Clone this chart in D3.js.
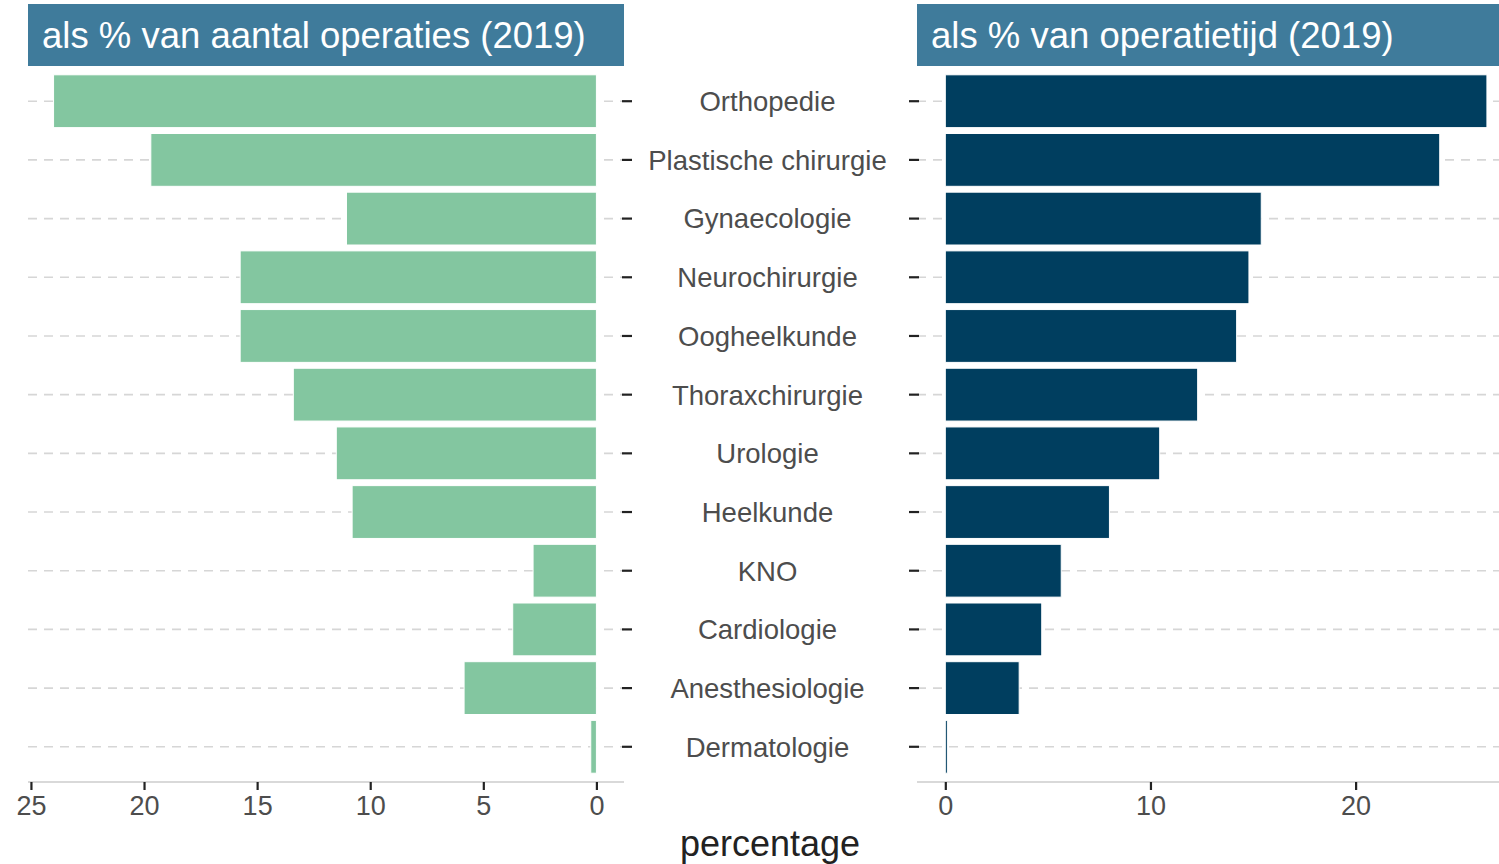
<!DOCTYPE html>
<html>
<head>
<meta charset="utf-8">
<script src="https://cdn.jsdelivr.net/npm/d3@7"></script>
<style>
  html, body { margin: 0; padding: 0; background: #fff; overflow: hidden; }
  svg { display: block; font-family: "Liberation Sans", Arial, sans-serif; }
</style>
</head>
<body>
<div id="chart"></div>
<script>
var categories = ['Orthopedie', 'Plastische chirurgie', 'Gynaecologie', 'Neurochirurgie',
                  'Oogheelkunde', 'Thoraxchirurgie', 'Urologie', 'Heelkunde', 'KNO',
                  'Cardiologie', 'Anesthesiologie', 'Dermatologie'];
// % van aantal operaties
var aantalValues = [24.0, 19.7, 11.05, 15.75, 15.75, 13.4, 11.5, 10.8, 2.8, 3.7, 5.85, 0.25];
// % van operatietijd
var tijdValues = [26.4, 24.1, 15.4, 14.8, 14.2, 12.3, 10.45, 8.0, 5.65, 4.7, 3.6, 0.1];
var leftTicks = [25, 20, 15, 10, 5, 0];
var rightTicks = [0, 10, 20];
var leftTitle = 'als % van aantal operaties (2019)';
var rightTitle = 'als % van operatietijd (2019)';
var axisTitle = 'percentage';

var width = 1499, height = 864,
    panelTop = 66, panelBottom = 782,
    headerTop = 4,
    left = { x0: 28, x1: 624 },
    right = { x0: 917, x1: 1514 },
    headerColor = '#3f7b9b',
    greenFill = '#83c6a0',
    navyFill = '#003e5f',
    textColor = '#4d4d4d';

var svg = d3.select('#chart')
            .append('svg')
              .attr('width', width)
              .attr('height', height);

var y = d3.scaleBand()
          .domain(categories)
          .range([panelTop, panelBottom])
          .paddingInner(0.1)
          .paddingOuter(0.15);

var xLeft = d3.scaleLinear()
              .domain([-1.22, 25.13])
              .range([left.x1, left.x0]);

var xRight = d3.scaleLinear()
               .domain([-1.38, 27.72])
               .range([right.x0, right.x1]);

function drawPanel(p, x, values, ticks, fill, title, tickSide) {
  var g = svg.append('g');

  // header strip
  g.append('rect')
   .attr('x', p.x0)
   .attr('y', headerTop)
   .attr('width', p.x1 - p.x0)
   .attr('height', panelTop - headerTop)
   .style('fill', headerColor);
  g.append('text')
   .attr('x', p.x0 + 14)
   .attr('y', (headerTop + panelTop) / 2)
   .attr('dy', '0.36em')
   .style('font-size', '36.5px')
   .style('fill', '#fff')
   .text(title);

  // dashed grid lines
  g.selectAll('.grid')
   .data(categories)
   .enter()
   .append('line')
     .attr('class', 'grid')
     .attr('x1', p.x0)
     .attr('x2', p.x1)
     .attr('y1', function(d) { return y(d) + y.bandwidth() / 2; })
     .attr('y2', function(d) { return y(d) + y.bandwidth() / 2; })
     .style('stroke', '#d6d6d6')
     .style('stroke-width', 1.6)
     .style('stroke-dasharray', '9,7');

  // bars
  g.selectAll('.bar')
   .data(values)
   .enter()
   .append('rect')
     .attr('class', 'bar')
     .attr('x', function(d) { return Math.min(x(0), x(d)); })
     .attr('y', function(d, i) { return y(categories[i]); })
     .attr('width', function(d) { return Math.abs(x(d) - x(0)); })
     .attr('height', y.bandwidth())
     .style('fill', fill)
     .style('stroke', '#fff')
     .style('stroke-width', 1);

  // y ticks at the inner edge
  var tx = tickSide === 'right' ? p.x1 : p.x0;
  var dir = tickSide === 'right' ? 1 : -1;
  g.selectAll('.ytick')
   .data(categories)
   .enter()
   .append('line')
     .attr('class', 'ytick')
     .attr('x1', tx - 2 * dir)
     .attr('x2', tx + 8 * dir)
     .attr('y1', function(d) { return y(d) + y.bandwidth() / 2; })
     .attr('y2', function(d) { return y(d) + y.bandwidth() / 2; })
     .style('stroke', '#222')
     .style('stroke-width', 2.2);

  // x axis
  var axis = g.append('g')
              .attr('transform', 'translate(0,' + panelBottom + ')')
              .call(d3.axisBottom(x).tickValues(ticks).tickSize(8).tickPadding(6));
  axis.select('.domain').remove();
  axis.insert('line', ':first-child')
      .attr('x1', p.x0)
      .attr('x2', p.x1)
      .style('stroke', '#d9d9d9')
      .style('stroke-width', 2);
  axis.selectAll('.tick line')
      .style('stroke', '#222')
      .style('stroke-width', 2.2);
  axis.selectAll('.tick text')
      .style('font-size', '27px')
      .style('font-family', '"Liberation Sans", Arial, sans-serif')
      .style('fill', textColor);
}

drawPanel(left, xLeft, aantalValues, leftTicks, greenFill, leftTitle, 'right');
drawPanel(right, xRight, tijdValues, rightTicks, navyFill, rightTitle, 'left');

// category labels in the middle
svg.selectAll('.cat')
   .data(categories)
   .enter()
   .append('text')
     .attr('class', 'cat')
     .attr('x', 767.5)
     .attr('y', function(d) { return y(d) + y.bandwidth() / 2; })
     .attr('dy', '0.36em')
     .attr('text-anchor', 'middle')
     .style('font-size', '27.5px')
     .style('fill', textColor)
     .text(function(d) { return d; });

svg.append('text')
   .attr('x', 770)
   .attr('y', 843)
   .attr('dy', '0.36em')
   .attr('text-anchor', 'middle')
   .style('font-size', '36px')
   .style('fill', '#222')
   .text(axisTitle);
</script>
</body>
</html>
